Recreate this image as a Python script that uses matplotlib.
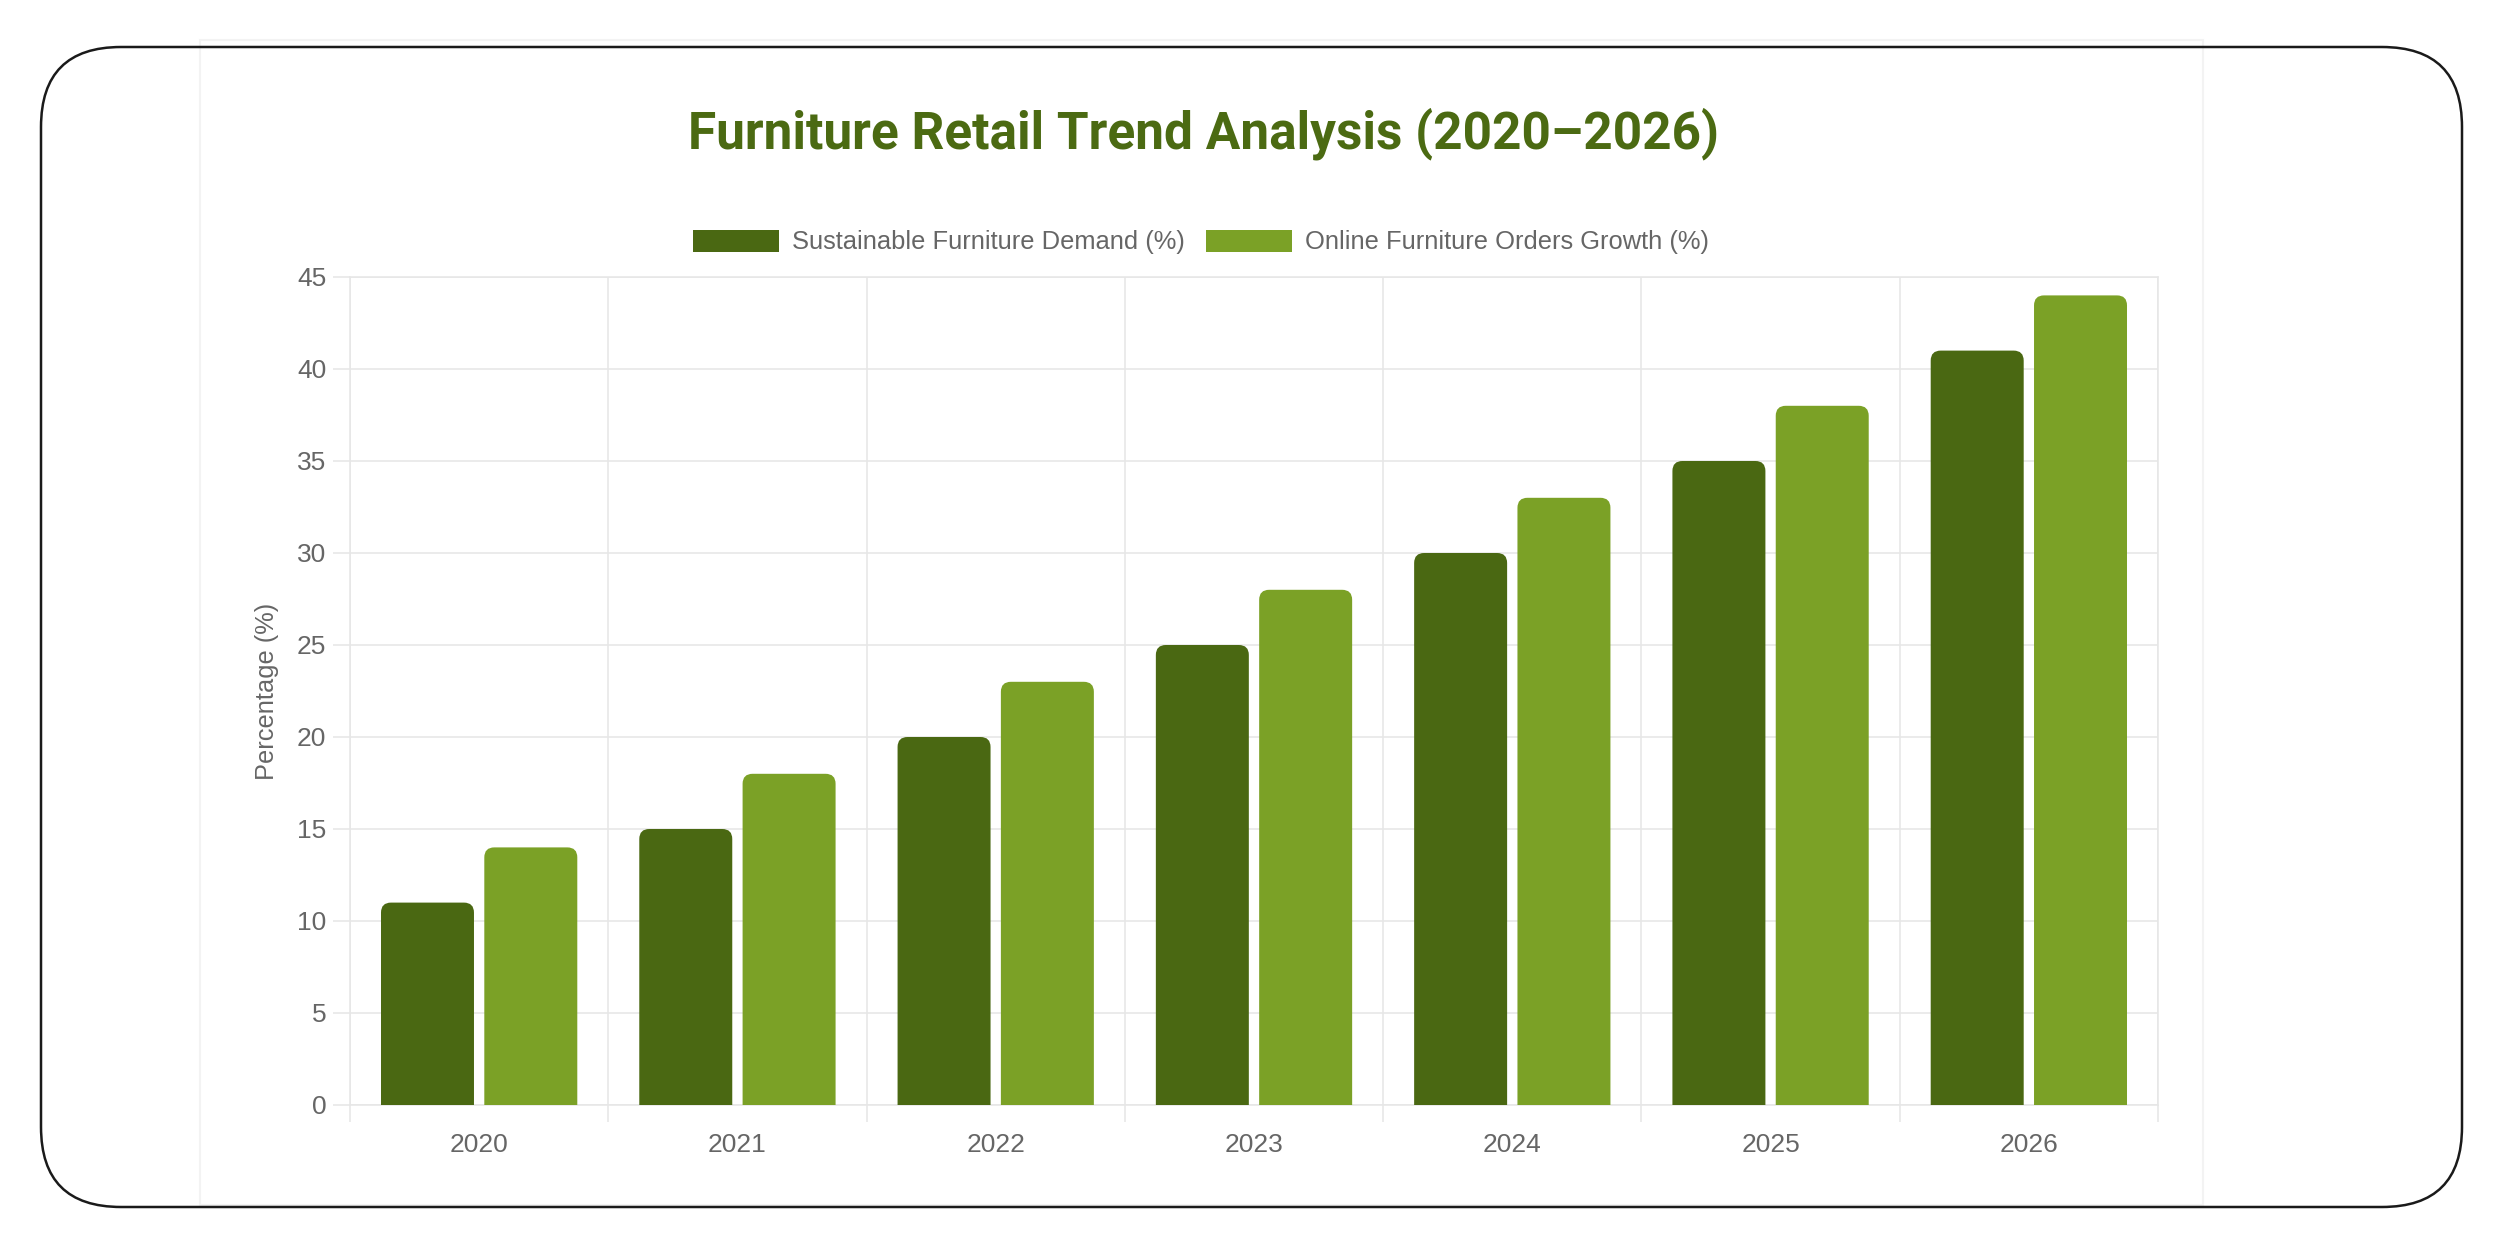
import numpy as np
import matplotlib
matplotlib.use("Agg")
from matplotlib import pyplot as plt
from matplotlib.path import Path
from matplotlib.patches import PathPatch, FancyBboxPatch, Rectangle

# chart data
years = ["2020", "2021", "2022", "2023", "2024", "2025", "2026"]
sustainable = [11, 15, 20, 25, 30, 35, 41]
online = [14, 18, 23, 28, 33, 38, 44]
series_names = ["Sustainable Furniture Demand (%)", "Online Furniture Orders Growth (%)"]
y_ticks = [0, 5, 10, 15, 20, 25, 30, 35, 40, 45]

dark_green = "#4a6812"
light_green = "#7ba126"
grid_col = "#e6e6e6"
text_col = "#666666"

W, H = 2497, 1240
fig = plt.figure(figsize=(W / 100, H / 100), dpi=100)
fig.patch.set_facecolor("white")

# background layer in pixel units: card + rounded frame
bg = fig.add_axes([0, 0, 1, 1], zorder=-5)
bg.set_xlim(0, W)
bg.set_ylim(H, 0)
bg.axis("off")
bg.add_patch(Rectangle((200, 40), 2003, 1165, facecolor="white",
                       edgecolor="#f3f3f3", lw=1.5))
bg.add_patch(FancyBboxPatch((41, 47), 2421, 1160,
                            boxstyle="round,pad=0,rounding_size=80",
                            facecolor="none", edgecolor="#1a1a1a", lw=1.8))

# main plot area
ax_l, ax_r, ax_t, ax_b = 350, 2158, 277, 1105
ax = fig.add_axes([ax_l / W, 1 - ax_b / H, (ax_r - ax_l) / W, (ax_b - ax_t) / H])
ax.set_xlim(-0.5, len(years) - 0.5)
ax.set_ylim(0, 45)

# bars with rounded top corners (radius given in pixels)
radius_px = 10
px_per_x = (ax_r - ax_l) / len(years)
px_per_y = (ax_b - ax_t) / 45.0
rx = radius_px / px_per_x
ry = radius_px / px_per_y
bar_w = 0.36


def rounded_bar(xc, h, color):
    x0, x1 = xc - bar_w / 2, xc + bar_w / 2
    verts = [(x0, 0), (x0, h - ry), (x0, h), (x0 + rx, h), (x1 - rx, h),
             (x1, h), (x1, h - ry), (x1, 0), (x0, 0)]
    codes = [Path.MOVETO, Path.LINETO, Path.CURVE3, Path.CURVE3, Path.LINETO,
             Path.CURVE3, Path.CURVE3, Path.LINETO, Path.CLOSEPOLY]
    ax.add_patch(PathPatch(Path(verts, codes), facecolor=color,
                           edgecolor="none", zorder=3))


x = np.arange(len(years))
for xi, v in zip(x, sustainable):
    rounded_bar(xi - 0.2, v, dark_green)
for xi, v in zip(x, online):
    rounded_bar(xi + 0.2, v, light_green)

# grid and ticks in the chart.js style
ax.set_yticks(y_ticks)
ax.set_yticklabels([str(t) for t in y_ticks])
ax.set_xticks(np.arange(len(years) + 1) - 0.5)
ax.set_xticklabels([])
ax.set_xticks(x, minor=True)
ax.set_xticklabels(years, minor=True)
ax.grid(True, which="major", color=grid_col, lw=1.1, zorder=0)
ax.set_axisbelow(True)
ax.tick_params(axis="both", which="major", length=12, width=1.1, color=grid_col,
               labelsize=19, labelcolor=text_col, pad=5)
ax.tick_params(axis="x", which="minor", length=0, labelsize=19,
               labelcolor=text_col, pad=20)
for lab in ax.get_xticklabels(minor=True) + ax.get_yticklabels():
    lab.set_family("Liberation Sans")
for s in ax.spines.values():
    s.set_color(grid_col)
    s.set_linewidth(1.1)

ax.set_ylabel("Percentage (%)", fontsize=18.3, color=text_col,
              family="Liberation Sans", labelpad=13)

# legend
handles = [Rectangle((0, 0), 1, 1, facecolor=dark_green),
           Rectangle((0, 0), 1, 1, facecolor=light_green)]
leg = fig.legend(handles, series_names, loc="center", ncol=2,
                 bbox_to_anchor=(1201 / W, 1 - 242 / H), frameon=False,
                 prop={"family": "Liberation Sans", "size": 18.4},
                 handlelength=3.35, handleheight=0.95, handletextpad=0.5,
                 columnspacing=0.85)
for t in leg.get_texts():
    t.set_color(text_col)

# title
fig.text(1203 / W, 1 - 134 / H, "Furniture Retail Trend Analysis (2020\u20132026)",
         ha="center", va="center", fontsize=37, fontweight="bold",
         color="#4b6a12", family="Roboto")

fig.savefig("out.png", dpi=100, facecolor="white")
